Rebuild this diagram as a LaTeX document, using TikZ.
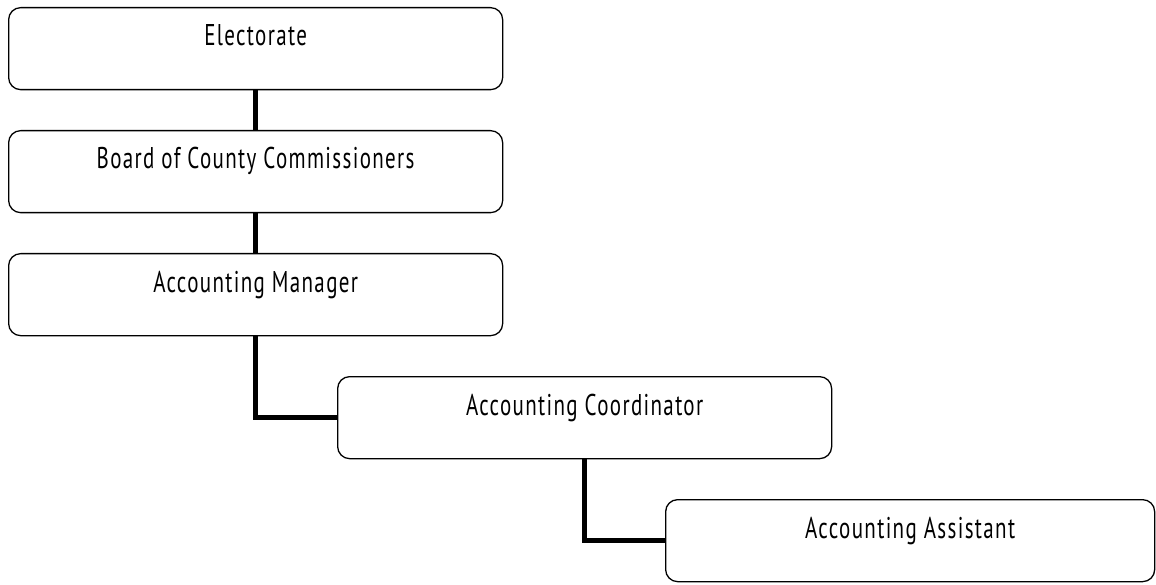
\documentclass[tikz,border=0pt]{standalone}
\usepackage{fontspec}
\setmainfont{PT Sans}[FakeStretch=0.7,LetterSpace=4.5]
\begin{document}
\begin{tikzpicture}[x=1pt,y=-1pt,
  box/.style={draw=black,line width=1.3pt,rounded corners=12pt,
    minimum width=494pt,minimum height=82pt,anchor=north west,inner sep=0pt},
  lbl/.style={anchor=base,inner sep=0pt,font=\fontsize{30}{34}\selectfont},
  conn/.style={line width=5.5pt,draw=black}]
\useasboundingbox (0,0) rectangle (1156,585);
% boxes, top to bottom
\node[box] (b1) at (8,7) {};
\node[box] (b2) at (8,130) {};
\node[box] (b3) at (8,253) {};
\node[box] (b4) at (337,376) {};
\node[box,minimum width=489pt] (b5) at (665,499) {};
% titles
\node[lbl] (t1) at ([yshift=-39pt]b1.north) {Electorate};
\node[lbl] (t2) at ([yshift=-39pt]b2.north) {Board of County Commissioners};
\node[lbl] (t3) at ([yshift=-39pt]b3.north) {Accounting Manager};
\node[lbl] (t4) at ([yshift=-39pt]b4.north) {Accounting Coordinator};
\node[lbl] (t5) at ([yshift=-39pt]b5.north) {Accounting Assistant};
% reporting lines
\draw[conn] (b1.south) -- (b2.north);
\draw[conn] (b2.south) -- (b3.north);
\draw[conn] (b3.south) |- (b4.west);
\draw[conn] (b4.south) |- (b5.west);
\end{tikzpicture}
\end{document}
